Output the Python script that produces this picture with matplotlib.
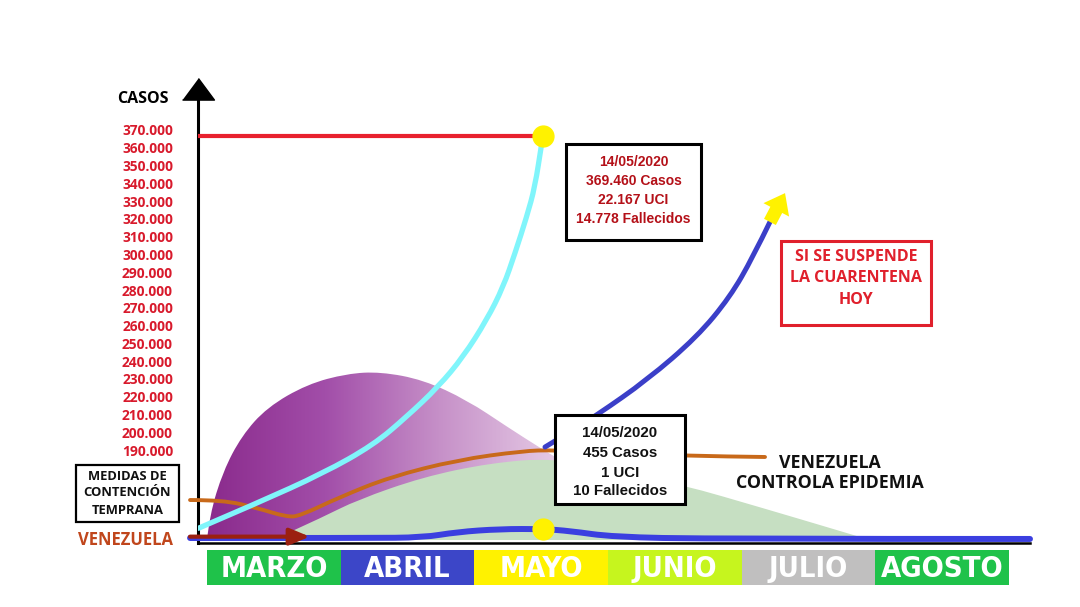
import numpy as np
import matplotlib
matplotlib.use('Agg')
import matplotlib.pyplot as plt
from matplotlib.patches import Rectangle, PathPatch
from matplotlib.path import Path
from matplotlib.colors import LinearSegmentedColormap

W, H = 1080, 607

# meses (x = 0 al inicio de marzo, 1 unidad = 1 mes)
meses = ['MARZO', 'ABRIL', 'MAYO', 'JUNIO', 'JULIO', 'AGOSTO']
colores_meses = ['#1fc24a', '#3c46c8', '#fff200', '#c6f51e', '#c0bfbf', '#1fc24a']
duracion_mes = [1, 1, 1, 1, 1, 1]

casos_ticks = list(range(190000, 370001, 10000))

# sin cuarentena (cian)
x_cian = [-0.065, 0.373, 0.871, 1.246, 1.496, 1.733, 1.920, 2.095, 2.220, 2.307, 2.395, 2.457, 2.507, 2.517]
y_cian = [146000, 160060, 177000, 192850, 208760, 225630, 242500, 263140, 281870, 300650, 321240, 338110, 362520, 366630]

# joroba morada
x_morado = [0.0, 0.02, 0.12, 0.26, 0.45, 0.75, 1.05, 1.3, 1.62, 1.95, 2.25, 2.5, 2.6]
y_morado = [139420, 153500, 178000, 198000, 214000, 227000, 233000, 234000, 229500, 218000, 203000, 191000, 186500]
base_morado = 2.65

# area verde
x_verde = [0.622, 0.869, 1.124, 1.618, 2.12, 2.592, 3.019, 3.543, 4.187, 4.719, 4.966]
y_verde = [143900, 152350, 161900, 174850, 182700, 185550, 178800, 170900, 156850, 145000, 139420]

# medidas de contencion (naranja)
x_naranja = [-0.127, 0.12, 0.375, 0.599, 0.697, 0.996, 1.371, 1.873, 2.367, 2.592, 3.094, 3.566, 4.18]
y_naranja = [161900, 161900, 157400, 152350, 153000, 163600, 174850, 184400, 189500, 190000, 188400, 186700, 186100]

# si se suspende la cuarentena (azul)
x_suspende = [2.532, 2.719, 2.921, 3.296, 3.670, 3.918, 4.09, 4.217]
y_suspende = [191700, 200150, 209700, 229400, 253600, 276100, 298600, 318300]
punta_flecha = (4.33, 334500)

# venezuela real (azul abajo)
x_vzla = [-0.127, 1.2, 1.618, 1.873, 2.195, 2.517, 2.719, 3.041, 3.79, 6.165]
y_vzla = [140540, 140540, 140800, 143900, 145600, 145600, 144500, 141100, 140000, 140000]

fecha_x = 2.517
pico_sin_cuarentena = 366630
vzla_hoy = 145600
base_casos = 139420

caja_roja = ['14/05/2020', '369.460 Casos', '22.167 UCI', '14.778 Fallecidos']
caja_vzla = ['14/05/2020', '455 Casos', '1 UCI', '10 Fallecidos']
aviso = ['SI SE SUSPENDE', 'LA CUARENTENA', 'HOY']
controla = ['VENEZUELA', 'CONTROLA EPIDEMIA']
medidas = ['MEDIDAS DE', 'CONTENCIÓN', 'TEMPRANA']


def curva(xs, ys):
    pts = list(zip(xs, ys))
    verts = [pts[0]]
    codes = [Path.MOVETO]
    n = len(pts)
    if n == 2:
        return verts + [pts[1]], codes + [Path.LINETO]
    for i in range(1, n - 1):
        if i < n - 2:
            fin = ((pts[i][0] + pts[i + 1][0]) / 2, (pts[i][1] + pts[i + 1][1]) / 2)
        else:
            fin = pts[i + 1]
        verts += [pts[i], fin]
        codes += [Path.CURVE3, Path.CURVE3]
    return verts, codes


def linea(ax, xs, ys, z, clip=True, **kw):
    v, c = curva(xs, ys)
    p = PathPatch(Path(v, c), facecolor='none', zorder=z, capstyle='round', **kw)
    p.set_clip_on(clip)
    ax.add_patch(p)
    return p


def area(xs, ys, x_fin, base):
    v, c = curva(xs, ys)
    v = v + [(x_fin, base), (xs[0], base), (xs[0], base)]
    c = c + [Path.LINETO, Path.LINETO, Path.CLOSEPOLY]
    return Path(v, c)


fig = plt.figure(figsize=(W / 100, H / 100), dpi=100)
fig.patch.set_facecolor('white')

def fx(px):
    return px / W

def fy(py):
    return 1 - py / H

ax = fig.add_axes([fx(198), fy(543), (1030 - 198) / W, (543 - 100) / H])
ylim = (137730, 386870)
xlim = (-0.0674, 6.165)

cmap_morado = LinearSegmentedColormap.from_list('morado', ['#8a2a8c', '#a24ea9', '#c792c9', '#e6cce6'])
clip_morado = PathPatch(area(x_morado, y_morado, base_morado, base_casos), facecolor='none', edgecolor='none')
ax.add_patch(clip_morado)
grad = np.linspace(0, 1, 256).reshape(1, -1)
im = ax.imshow(grad, extent=[min(x_morado), base_morado, ylim[0], max(y_morado)],
               aspect='auto', cmap=cmap_morado, zorder=1)
im.set_clip_path(clip_morado)

ax.add_patch(PathPatch(area(x_verde, y_verde, x_verde[-1], base_casos), facecolor='#c6dfc2',
                       edgecolor='none', zorder=2))

linea(ax, x_naranja, y_naranja, 3, clip=False, edgecolor='#c8691a', lw=2.8)
linea(ax, x_cian, y_cian, 4, edgecolor='#80f5fb', lw=3.8)
ax.plot([xlim[0], fecha_x], [pico_sin_cuarentena] * 2, color='#e8212e', lw=3.0, zorder=4)
linea(ax, x_suspende, y_suspende, 4, edgecolor='#3b3fc8', lw=3.6)
ax.annotate('', xy=punta_flecha, xytext=(x_suspende[-1], y_suspende[-1]),
            arrowprops=dict(arrowstyle='simple,head_length=0.85,head_width=1.3,tail_width=0.6',
                            color='#fff200', lw=0, shrinkA=0, shrinkB=0, mutation_scale=16), zorder=5)
linea(ax, x_vzla, y_vzla, 5, clip=False, edgecolor='#3b3fe0', lw=4.3)
ax.annotate('', xy=(0.77, 141300), xytext=(-0.127, 141300),
            arrowprops=dict(arrowstyle='-|>,head_length=1.2,head_width=0.5', color='#9b2010',
                            lw=3.0, shrinkA=0, shrinkB=0), zorder=6, annotation_clip=False)
ax.plot([fecha_x, fecha_x], [pico_sin_cuarentena, vzla_hoy], 'o', color='#fff200',
        markersize=15, zorder=7, clip_on=False)

# eje con flecha arriba
ax.plot([xlim[0]], [390250], marker=[(-1, -0.35), (1, -0.35), (0, 1)], color='black',
        markersize=23, clip_on=False, zorder=8)

ax.set_xlim(xlim)
ax.set_ylim(ylim)
for s in ['top', 'right']:
    ax.spines[s].set_visible(False)
ax.spines['left'].set_linewidth(2.2)
ax.spines['bottom'].set_linewidth(1.8)
ax.set_xticks([])
ax.set_yticks(casos_ticks)
ax.set_yticklabels([f'{v:,}'.replace(',', '.') for v in casos_ticks])
ax.tick_params(axis='y', length=0, pad=18, labelsize=9.9, labelcolor='#d81a2c')
for t in ax.get_yticklabels():
    t.set_fontfamily('Open Sans')
    t.set_fontweight('bold')
ax.set_facecolor('none')

# barra de meses
ax2 = fig.add_axes([fx(207), fy(585), (1009 - 207) / W, 35 / H])
ax2.bar(range(len(meses)), duracion_mes, width=1.0, color=colores_meses, lw=0)
for i, m in enumerate(meses):
    ax2.text(i, 0.47, m, ha='center', va='center', color='white', fontsize=21, fontweight='bold',
             family=['Liberation Sans Narrow', 'DejaVu Sans'], fontstretch='condensed')
ax2.set_xlim(-0.5, len(meses) - 0.5)
ax2.set_ylim(0, 1)
ax2.axis('off')

def caja(x0, y0, x1, y1, color, lw):
    fig.add_artist(Rectangle((fx(x0), fy(y1)), (x1 - x0) / W, (y1 - y0) / H,
                             transform=fig.transFigure, facecolor='white', edgecolor=color,
                             lw=lw, zorder=10))

def lineas(textos, cx, ys, **kw):
    for t, y in zip(textos, ys):
        fig.text(fx(cx), fy(y), t, ha='center', va='center', zorder=11, fontweight='bold', **kw)

fig.text(fx(143), fy(99), 'CASOS', ha='center', va='center', fontsize=11.5,
         fontweight='bold', family='Open Sans', color='black')

caja(566, 144, 701, 240, 'black', 2.2)
lineas(caja_roja, 633.5, [162, 181, 200, 219], fontsize=10, family='Liberation Sans', color='#b41018')

caja(555, 415, 685, 504, 'black', 2.2)
lineas(caja_vzla, 620, [433, 453, 473, 491], fontsize=10.8, family='Liberation Sans', color='#111111')

caja(781, 241, 931, 325, '#e0202c', 2.2)
lineas(aviso, 856, [257, 278, 300], fontsize=11.5, family='Open Sans', color='#e0202c')

lineas(controla, 830, [463, 483], fontsize=12.8, family='Open Sans', color='#111111')

caja(76, 465, 179, 522, 'black', 1.6)
lineas(medidas, 127.5, [476, 493, 510], fontsize=9.4, family='Open Sans', color='#111111')

fig.text(fx(126), fy(540), 'VENEZUELA', ha='center', va='center', fontsize=12,
         fontweight='bold', family='Open Sans', color='#c0461c')

fig.savefig('out.png', dpi=100)
